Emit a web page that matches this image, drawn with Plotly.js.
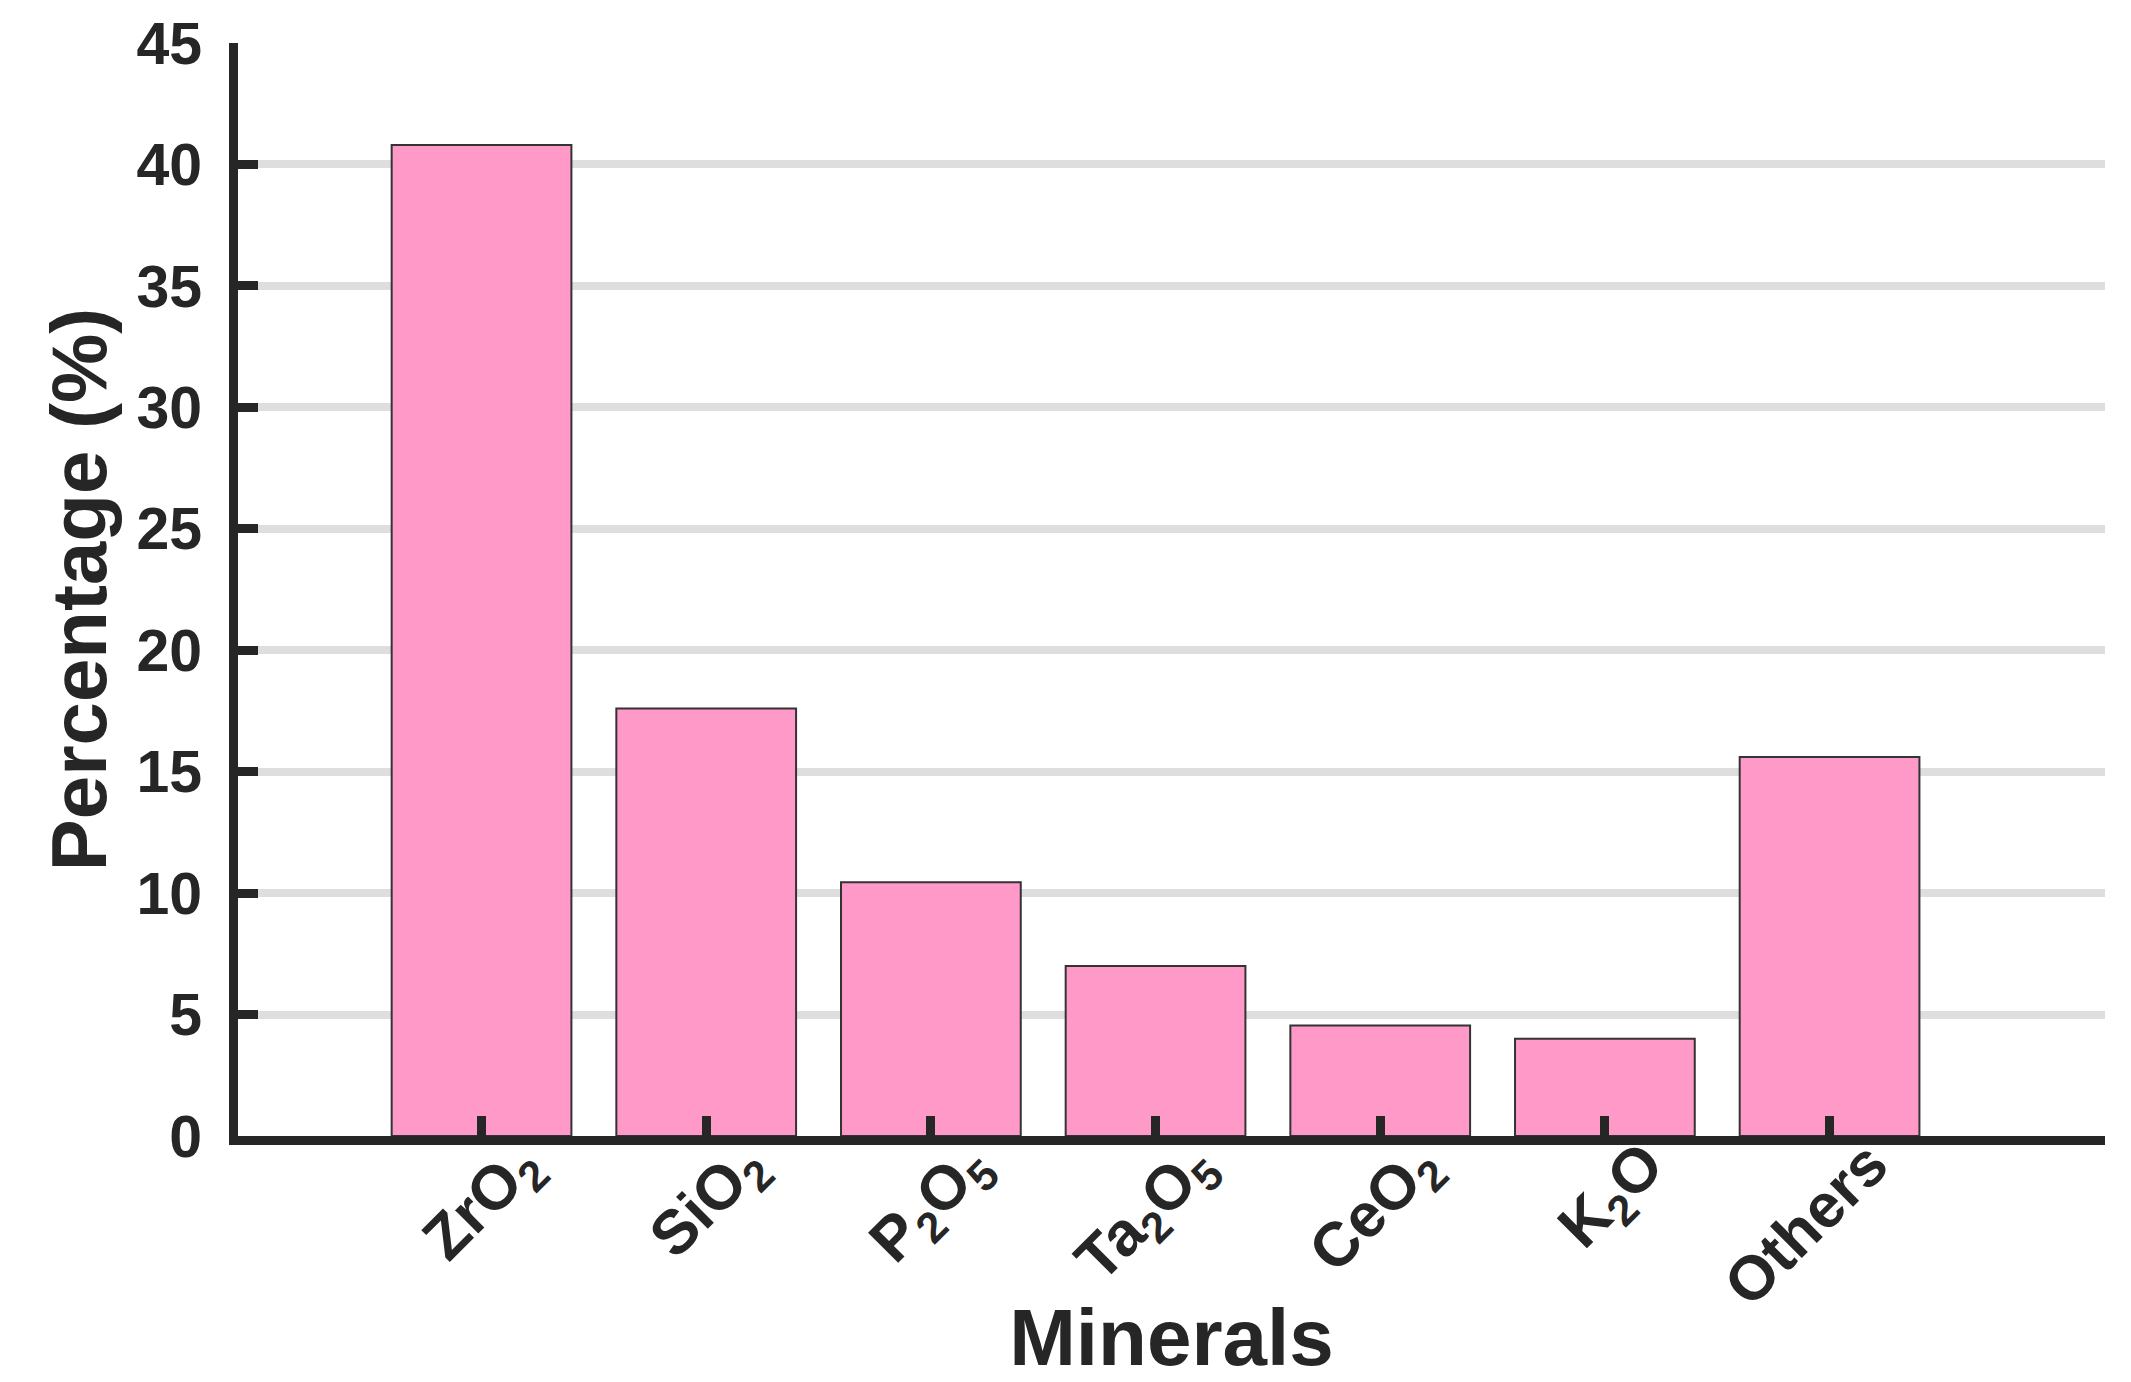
<!DOCTYPE html>
<html>
<head>
<meta charset="utf-8">
<script src="https://cdn.plot.ly/plotly-3.0.1.min.js"></script>
<style>
  html, body { margin: 0; padding: 0; background: #ffffff; }
  #chart { width: 2131px; height: 1382px; }
</style>
</head>
<body>
<div id="chart"></div>
<script>
// Data
const minerals = ["ZrO<sub>2</sub>", "SiO<sub>2</sub>", "P<sub>2</sub>O<sub>5</sub>", "Ta<sub>2</sub>O<sub>5</sub>", "CeO<sub>2</sub>", "K<sub>2</sub>O", "Others"];
const percentages = [40.8, 17.6, 10.45, 7.0, 4.55, 4.0, 15.6];
const yTickValues = [0, 5, 10, 15, 20, 25, 30, 35, 40, 45];

const FONT = "Liberation Sans, Arial, Helvetica, sans-serif";
const INK = "#262626";

const trace = {
  type: "bar",
  x: minerals,
  y: percentages,
  marker: {
    color: "#ff99c7",
    line: { color: "#333333", width: 2 }
  },
  hoverinfo: "x+y"
};

const layout = {
  width: 2131,
  height: 1382,
  paper_bgcolor: "#ffffff",
  plot_bgcolor: "#ffffff",
  margin: { l: 238, r: 26, t: 43, b: 246, pad: 0 },
  showlegend: false,
  bargap: 0.2,
  font: { family: FONT, color: INK },
  xaxis: {
    type: "category",
    range: [-1.084, 7.226],
    showline: true,
    linecolor: INK,
    linewidth: 9,
    mirror: false,
    showgrid: false,
    zeroline: false,
    ticks: "inside",
    ticklen: 20,
    tickwidth: 9,
    tickcolor: INK,
    tickangle: -45,
    ticklabelshift: 40,
    ticklabelstandoff: -42,
    tickfont: { family: FONT, size: 62, color: INK, weight: "bold" },
    title: {
      text: "Minerals",
      font: { family: FONT, size: 80, color: INK, weight: "bold" }
    },
    automargin: false
  },
  yaxis: {
    range: [0, 45],
    tickvals: yTickValues,
    ticktext: yTickValues.map(String),
    showline: true,
    linecolor: INK,
    linewidth: 9,
    showgrid: true,
    gridcolor: "#dedede",
    gridwidth: 8,
    zeroline: false,
    ticks: "inside",
    ticklen: 20,
    tickwidth: 9,
    tickcolor: INK,
    ticklabelstandoff: 15,
    tickfont: { family: FONT, size: 59, color: INK, weight: "bold" },
    title: {
      text: "Percentage (%)",
      font: { family: FONT, size: 78, color: INK, weight: "bold" },
      standoff: 8
    },
    automargin: false
  }
};

Plotly.newPlot("chart", [trace], layout, { displayModeBar: false, staticPlot: true });
</script>
</body>
</html>
